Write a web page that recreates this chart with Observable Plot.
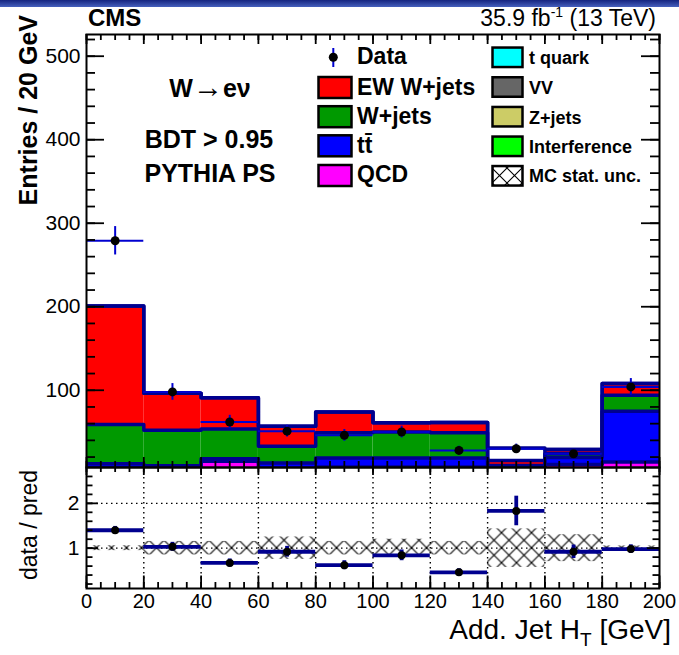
<!DOCTYPE html>
<html><head><meta charset="utf-8">
<script src="https://cdn.jsdelivr.net/npm/d3@7"></script>
<script src="https://cdn.jsdelivr.net/npm/@observablehq/plot@0.6"></script>
<style>
html,body{margin:0;padding:0;background:#fff;}
#wrap{position:relative;width:679px;height:655px;overflow:hidden;background:#fff;font-family:"Liberation Sans",Arial,sans-serif;}
#wrap svg{position:absolute;left:0;}
#overlay{pointer-events:none;}
</style></head><body><div id="wrap"></div>
<script>
// ---------------- data ----------------
const binEdges = [0, 20, 40, 60, 80, 100, 120, 140, 160, 180, 200];
const dataCounts = [279, 98, 62, 51, 46, 50, 28, 30, 24, 104];
const dataErrors = [17, 10, 8, 7, 7, 7, 5, 5.5, 5, 10];
const qcd      = [7, 4, 15, 5, 8, 8, 8, 4, 11, 14];
const ttbar    = [5, 5.5, 3, 8, 11, 11, 11, 4, 8.5, 61];
const wjets    = [47, 42.5, 35.5, 20, 30, 31, 30, 2, 4.5, 19];
const ewWjets  = [142, 44.5, 37.5, 24, 25, 11, 12.5, 6, 5, 14];
const stackEnvelope = [201, 96.5, 91, 57, 74, 61, 61.5, 31, 29, 108];
const ratioValues = [1.40, 1.03, 0.67, 0.92, 0.62, 0.84, 0.46, 1.83, 0.92, 0.98];
const ratioErrors = [0.085, 0.1, 0.09, 0.12, 0.1, 0.12, 0.08, 0.33, 0.15, 0.095];
const mcStatUnc   = [0.055, 0.15, 0.15, 0.25, 0.15, 0.2, 0.15, 0.43, 0.3, 0.05];
const xMajorTicks = [0, 20, 40, 60, 80, 100, 120, 140, 160, 180, 200];
const yMainTicks = [100, 200, 300, 400, 500];
const yRatioTicks = [1, 2];
const legendLeft = ["Data", "EW W+jets", "W+jets", "tt\u0304", "QCD"];
const legendRight = ["t quark", "VV", "Z+jets", "Interference", "MC stat. unc."];

// ---------------- styling ----------------
const navy = "#00008f";
const dataBlue = "#0000d0";
const compColors = {QCD: "#ff00ff", ttbar: "#0000ff", "W+jets": "#009900", "EW W+jets": "#ff0000"};
const W = 679, mL = 86, mR = 20;
const plotW = W - mL - mR;
const mainH = 470, mainTop = 34, mainBottom = 3, mainPlotH = mainH - mainTop - mainBottom;
const ratH = 189, ratTop = 1, ratBottom = 67, ratPlotH = ratH - ratTop - ratBottom;
const yLo = 7.5, yHi = 526;
const rLo = 0.1, rHi = 2.8;
const font = "Liberation Sans, Arial, sans-serif";

const nb = dataCounts.length;
const bins = d3.range(nb).map(i => ({i, x1: binEdges[i], x2: binEdges[i + 1], xc: (binEdges[i] + binEdges[i + 1]) / 2}));
const components = [
  {name: "QCD", values: qcd},
  {name: "ttbar", values: ttbar},
  {name: "W+jets", values: wjets},
  {name: "EW W+jets", values: ewWjets}
];
let base = new Array(nb).fill(0);
const layers = components.map(c => {
  const rows = bins.map((b, i) => ({...b, lo: base[i], hi: base[i] + c.values[i]}));
  base = rows.map(r => r.hi);
  return {color: compColors[c.name], rows};
});
const steps = levels => bins.flatMap((b, i) => [{x: b.x1, y: levels[i]}, {x: b.x2, y: levels[i]}]);
const dataRows = bins.map((b, i) => ({...b, v: dataCounts[i], e: dataErrors[i]}));
const ratioRows = bins.map((b, i) => ({...b, r: ratioValues[i], e: ratioErrors[i], u: mcStatUnc[i]}));

const minorX = d3.range(0, 201, 5);
const minorYMain = d3.range(20, 521, 20);
const minorYRatio = d3.range(2, 28, 2).map(v => v / 10);

function frameTicks(plotH, o) {
  const s = {stroke: "black", strokeWidth: 1.8};
  return [
    Plot.tickY(o.yMajor, {y: d => d, insetRight: plotW - o.yMajLen, ...s}),
    Plot.tickY(o.yMinor, {y: d => d, insetRight: plotW - o.yMinLen, ...s}),
    Plot.tickY(o.yMajor, {y: d => d, insetLeft: plotW - o.yMajLen, ...s}),
    Plot.tickY(o.yMinor, {y: d => d, insetLeft: plotW - o.yMinLen, ...s}),
    Plot.tickX(xMajorTicks, {x: d => d, insetTop: plotH - o.xMajLenB, ...s}),
    Plot.tickX(minorX, {x: d => d, insetTop: plotH - o.xMinLenB, ...s}),
    Plot.tickX(xMajorTicks, {x: d => d, insetBottom: plotH - o.xMajLenT, ...s}),
    Plot.tickX(minorX, {x: d => d, insetBottom: plotH - o.xMinLenT, ...s})
  ];
}

// ---------------- main panel ----------------
const main = Plot.plot({
  width: W, height: mainH,
  marginLeft: mL, marginRight: mR, marginTop: mainTop, marginBottom: mainBottom,
  x: {domain: [0, 200], label: null, axis: null},
  y: {domain: [yLo, yHi], label: null, axis: null},
  style: {background: "transparent", overflow: "visible", fontFamily: font},
  marks: [
    Plot.rect(bins, {x1: "x1", x2: "x2", y1: () => yLo, y2: d => stackEnvelope[d.i], fill: "white", clip: true}),
    ...layers.map(L => Plot.rect(L.rows, {x1: "x1", x2: "x2", y1: d => Math.max(d.lo, yLo - 4), y2: d => Math.max(d.hi, yLo - 4), fill: L.color, clip: true})),
    Plot.line(steps(stackEnvelope), {x: "x", y: "y", stroke: navy, strokeWidth: 3.5, clip: true}),
    ...layers.map(L => Plot.line(steps(L.rows.map(r => Math.max(r.hi, yLo - 6))), {x: "x", y: "y", stroke: navy, strokeWidth: 3.5, clip: true})),
    Plot.ruleY(dataRows, {y: "v", x1: "x1", x2: "x2", stroke: dataBlue, strokeWidth: 2}),
    Plot.ruleX(dataRows, {x: "xc", y1: d => d.v - d.e, y2: d => d.v + d.e, stroke: dataBlue, strokeWidth: 2}),
    Plot.dot(dataRows, {x: "xc", y: "v", r: 4.5, fill: "black", stroke: "none"}),
    ...frameTicks(mainPlotH, {yMajor: yMainTicks, yMinor: minorYMain, yMajLen: 18, yMinLen: 9, xMajLenB: 10, xMinLenB: 6, xMajLenT: 10, xMinLenT: 6}),
    Plot.axisY(yMainTicks, {anchor: "left", tickSize: 0, tickPadding: 6, fontSize: 21, label: null, fill: "black"}),
    Plot.frame({stroke: "black", strokeWidth: 2})
  ]
});
main.style.top = "0px";

// ---------------- ratio panel ----------------
const ratio = Plot.plot({
  width: W, height: ratH,
  marginLeft: mL, marginRight: mR, marginTop: ratTop, marginBottom: ratBottom,
  x: {domain: [0, 200], label: null, axis: null},
  y: {domain: [rLo, rHi], label: null, axis: null},
  style: {background: "transparent", overflow: "visible", fontFamily: font},
  marks: [
    Plot.ruleX(xMajorTicks.slice(1, -1), {x: d => d, stroke: "black", strokeWidth: 1.4, strokeDasharray: "1.5,3.5"}),
    Plot.ruleY(yRatioTicks, {y: d => d, stroke: "black", strokeWidth: 1.4, strokeDasharray: "1.5,3.5"}),
    Plot.rect(ratioRows, {x1: "x1", x2: "x2", y1: d => 1 - d.u, y2: d => 1 + d.u, fill: "url(#xhatch)"}),
    Plot.ruleY(ratioRows, {y: "r", x1: "x1", x2: "x2", stroke: navy, strokeWidth: 3.8}),
    Plot.ruleX(ratioRows, {x: "xc", y1: d => d.r - d.e, y2: d => d.r + d.e, stroke: navy, strokeWidth: 3.8}),
    Plot.dot(ratioRows, {x: "xc", y: "r", r: 4, fill: "black", stroke: "none"}),
    ...frameTicks(ratPlotH, {yMajor: yRatioTicks, yMinor: minorYRatio, yMajLen: 12, yMinLen: 6.5, xMajLenB: 12.5, xMinLenB: 6, xMajLenT: 8, xMinLenT: 5}),
    Plot.axisY(yRatioTicks, {anchor: "left", tickSize: 0, tickPadding: 7, fontSize: 21, label: null, fill: "black"}),
    Plot.axisX(xMajorTicks, {anchor: "bottom", tickSize: 0, tickPadding: 5, fontSize: 20, label: null, fill: "black"}),
    Plot.frame({stroke: "black", strokeWidth: 2})
  ]
});
ratio.style.top = "466px";
{
  const ns = "http://www.w3.org/2000/svg";
  const y1px = ratio.scale("y").apply(1);
  const x0px = ratio.scale("x").apply(0) + 10.5;
  const defs = document.createElementNS(ns, "defs");
  defs.innerHTML = `<pattern id="xhatch" patternUnits="userSpaceOnUse" width="15" height="15" x="${x0px}" y="${y1px}"><path d="M-1,-1L16,16M16,-1L-1,16" stroke="#000" stroke-width="1.1" fill="none"/></pattern>`;
  ratio.insertBefore(defs, ratio.firstChild);
}

// ---------------- overlay texts & legend ----------------
const leftRows = [57.3, 87.5, 116.7, 145.8, 175.5];
const leftBase = [64, 94.5, 123.5, 153, 182];
const rightRows = [57.3, 87, 116.7, 146.3, 175.8];
const rightBase = [64, 94, 123.5, 152.5, 181.5];
const leftFills = [null, compColors["EW W+jets"], compColors["W+jets"], compColors.ttbar, compColors.QCD];
const rightFills = ["#00ffff", "#666666", "#cccc66", "#00ff00", "url(#xhatchL)"];

let ov = `<svg id="overlay" xmlns="http://www.w3.org/2000/svg" width="${W}" height="655" style="top:0;font-family:${font}">
<defs>
<linearGradient id="topband" x1="0" y1="0" x2="0" y2="1"><stop offset="0" stop-color="#15247f"/><stop offset="1" stop-color="#4660bd"/></linearGradient>
<pattern id="xhatchL" patternUnits="userSpaceOnUse" width="15" height="15" x="492" y="168"><path d="M-1,-1L16,16M16,-1L-1,16" stroke="#000" stroke-width="1.1" fill="none"/></pattern>
</defs>
<rect x="0" y="0" width="${W}" height="7" fill="url(#topband)"/>
<text x="88" y="26" font-size="24" font-weight="bold">CMS</text>
<text x="656" y="26" font-size="23" text-anchor="end">35.9 fb<tspan font-size="14" dy="-9">-1</tspan><tspan dy="9"> (13 TeV)</tspan></text>
<text transform="translate(37,15) rotate(-90)" text-anchor="end" font-size="25" font-weight="bold">Entries / 20 GeV</text>
<text transform="translate(37,525) rotate(-90)" text-anchor="middle" font-size="23">data / pred</text>
<text x="671" y="639" font-size="28" text-anchor="end">Add. Jet H<tspan font-size="19" dy="7">T</tspan><tspan dy="-7"> [GeV]</tspan></text>
<text x="210" y="97" font-size="25" text-anchor="middle"><tspan font-weight="bold">W</tspan><tspan font-size="30">\u2192</tspan><tspan font-weight="bold">e\u03bd</tspan></text>
<text x="209" y="148" font-size="25" font-weight="bold" text-anchor="middle">BDT &gt; 0.95</text>
<text x="210" y="181.5" font-size="25" font-weight="bold" text-anchor="middle">PYTHIA PS</text>
`;
legendLeft.forEach((t, k) => {
  if (k === 0) {
    ov += `<line x1="333.3" x2="333.3" y1="48" y2="67" stroke="${dataBlue}" stroke-width="2"/><circle cx="333.3" cy="${leftRows[0]}" r="4.5" fill="black"/>`;
  } else {
    ov += `<rect x="318.5" y="${leftRows[k] - 10.5}" width="33" height="21" fill="${leftFills[k]}" stroke="black" stroke-width="2.5"/>`;
  }
  ov += `<text x="357" y="${leftBase[k]}" font-size="23" font-weight="bold">${t}</text>`;
});
legendRight.forEach((t, k) => {
  ov += `<rect x="492.5" y="${rightRows[k] - 9.75}" width="30" height="19.5" fill="${rightFills[k]}" stroke="black" stroke-width="2.5"/>`;
  ov += `<text x="529" y="${rightBase[k]}" font-size="18" font-weight="bold">${t}</text>`;
});
ov += `</svg>`;

const wrap = document.getElementById("wrap");
wrap.appendChild(main);
wrap.appendChild(ratio);
wrap.insertAdjacentHTML("beforeend", ov);
</script>
</body></html>
